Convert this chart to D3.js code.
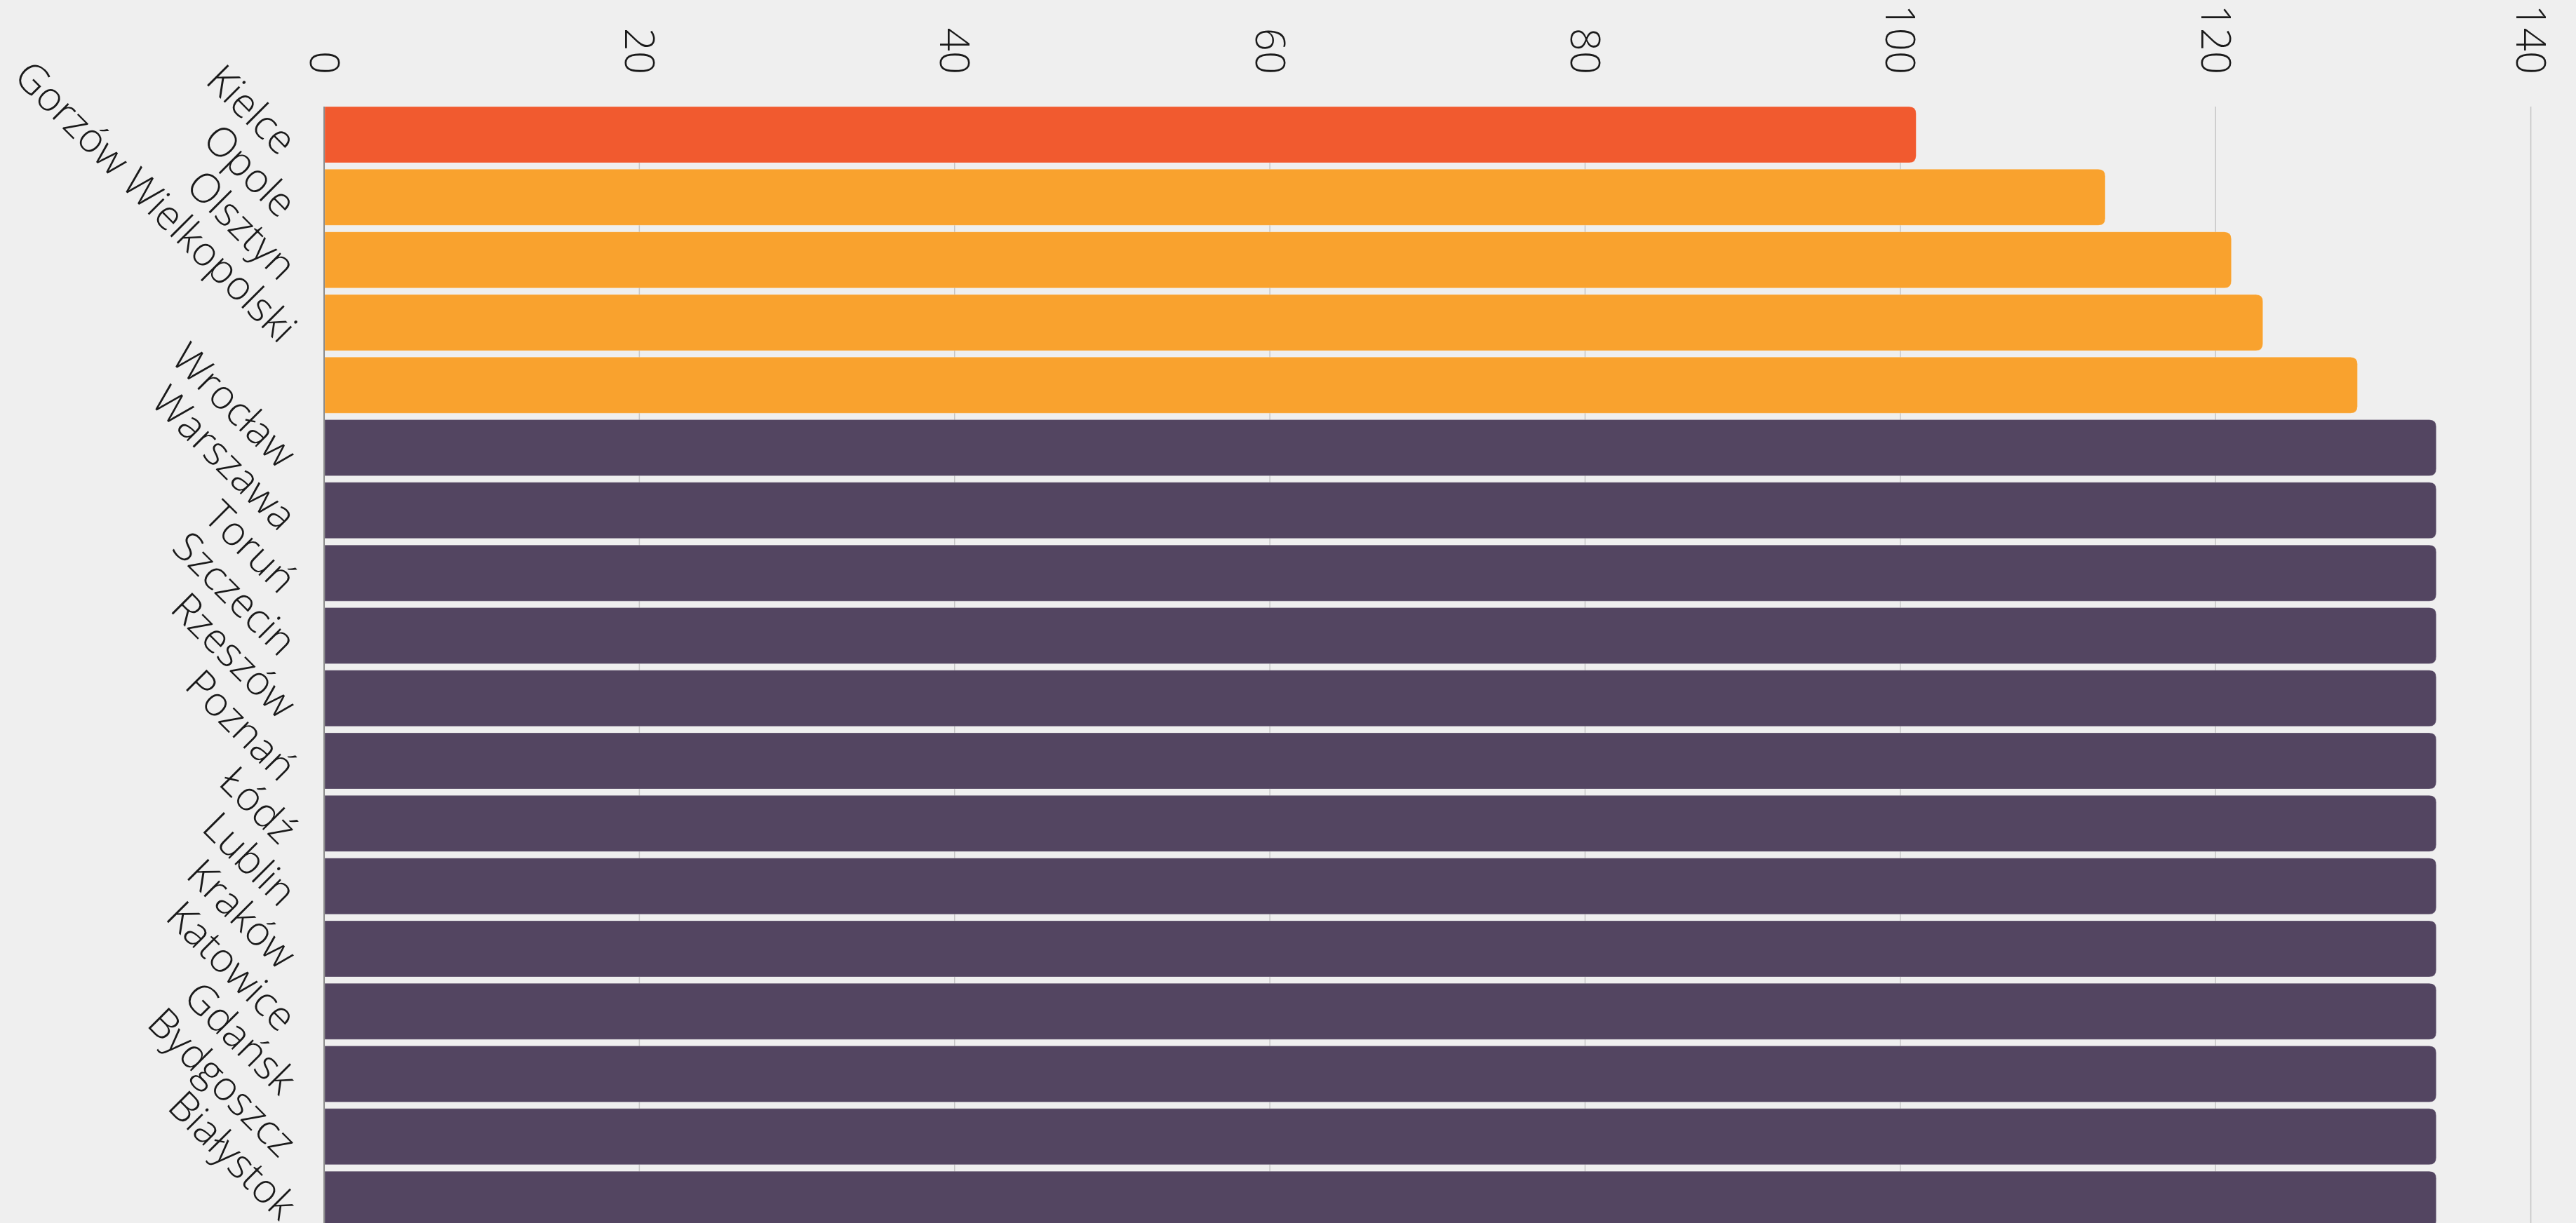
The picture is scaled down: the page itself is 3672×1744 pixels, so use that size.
<!DOCTYPE html>
<html>
<head>
<meta charset="utf-8">
<script src="https://cdn.jsdelivr.net/npm/d3@7"></script>
<style>
  html, body { margin: 0; padding: 0; background: #efefef; overflow: hidden; }
  svg { display: block; }
  text { font-family: "Open Sans", "Noto Sans", sans-serif; font-weight: 300; fill: #1a1a1a; }
</style>
</head>
<body>
<script>
// ---- data ----
const categories = ["Kielce", "Opole", "Olsztyn", "Gorzów Wielkopolski", "Zielona Góra",
  "Wrocław", "Warszawa", "Toruń", "Szczecin", "Rzeszów", "Poznań", "Łódź", "Lublin",
  "Kraków", "Katowice", "Gdańsk", "Bydgoszcz", "Białystok"];
const values = [101, 113, 121, 123, 129, 134, 134, 134, 134, 134, 134, 134, 134, 134, 134, 134, 134, 134];
const groups = ["low", "mid", "mid", "mid", "mid", "top", "top", "top", "top", "top", "top", "top", "top", "top", "top", "top", "top", "top"];
const hiddenLabels = ["Zielona Góra"]; // label not shown in the reference (overlap)
const tickValues = [0, 20, 40, 60, 80, 100, 120, 140];

// ---- layout ----
const W = 3672, H = 1744;
const colors = { low: "#f15a2f", mid: "#f9a22e", top: "#534561" };

const svg = d3.select("body").append("svg").attr("width", W).attr("height", H);

const x = d3.scaleLinear().domain([0, 140]).range([462, 3607.6]);
const y = d3.scaleBand().domain(d3.range(categories.length))
  .range([147.4, 147.4 + 89.3 * categories.length])
  .paddingInner(0.104).paddingOuter(0.052);

const data = categories.map((c, i) => ({ name: c, value: values[i], group: groups[i], i }));

// gridlines
svg.append("g").selectAll("line").data(tickValues.filter(t => t > 0)).join("line")
  .attr("x1", d => x(d)).attr("x2", d => x(d))
  .attr("y1", 152).attr("y2", H)
  .attr("stroke", "#c6c6c6").attr("stroke-width", 1.5);

// top axis tick labels
const xAxis = d3.axisTop(x).tickValues(tickValues).tickSize(0).tickPadding(0);
const gx = svg.append("g").attr("transform", "translate(0,106)").call(xAxis);
gx.select(".domain").remove();
gx.selectAll("text")
  .attr("transform", "rotate(90)")
  .attr("x", 0).attr("y", 0).attr("dy", "0.36em")
  .attr("text-anchor", "end")
  .style("font-size", "58px")
  .style("font-family", "'Open Sans', sans-serif")
  .style("font-weight", 300)
  .attr("fill", "#1a1a1a");

// bars with rounded right corners
const r = 10;
function barPath(d) {
  const x0 = x(0) + 1, x1 = x(d.value), y0 = y(d.i), h = y.bandwidth();
  return `M${x0},${y0}H${x1 - r}Q${x1},${y0} ${x1},${y0 + r}V${y0 + h - r}Q${x1},${y0 + h} ${x1 - r},${y0 + h}H${x0}Z`;
}
svg.append("g").selectAll("path").data(data).join("path")
  .attr("d", barPath)
  .attr("fill", d => colors[d.group])
  .attr("stroke", "#ffffff").attr("stroke-opacity", 0.25).attr("stroke-width", 1);

// zero line
svg.append("line")
  .attr("x1", x(0)).attr("x2", x(0)).attr("y1", 152).attr("y2", H)
  .attr("stroke", "#8a8a8a").attr("stroke-width", 2);

// category labels, rotated 45°
svg.append("g").selectAll("text").data(data.filter(d => !hiddenLabels.includes(d.name))).join("text")
  .attr("transform", d => `translate(${x(0) - 64},${y(d.i) + y.bandwidth() / 2 + 32}) rotate(45)`)
  .attr("text-anchor", "end")
  .style("font-size", "58px")
  .text(d => d.name);
</script>
</body>
</html>
